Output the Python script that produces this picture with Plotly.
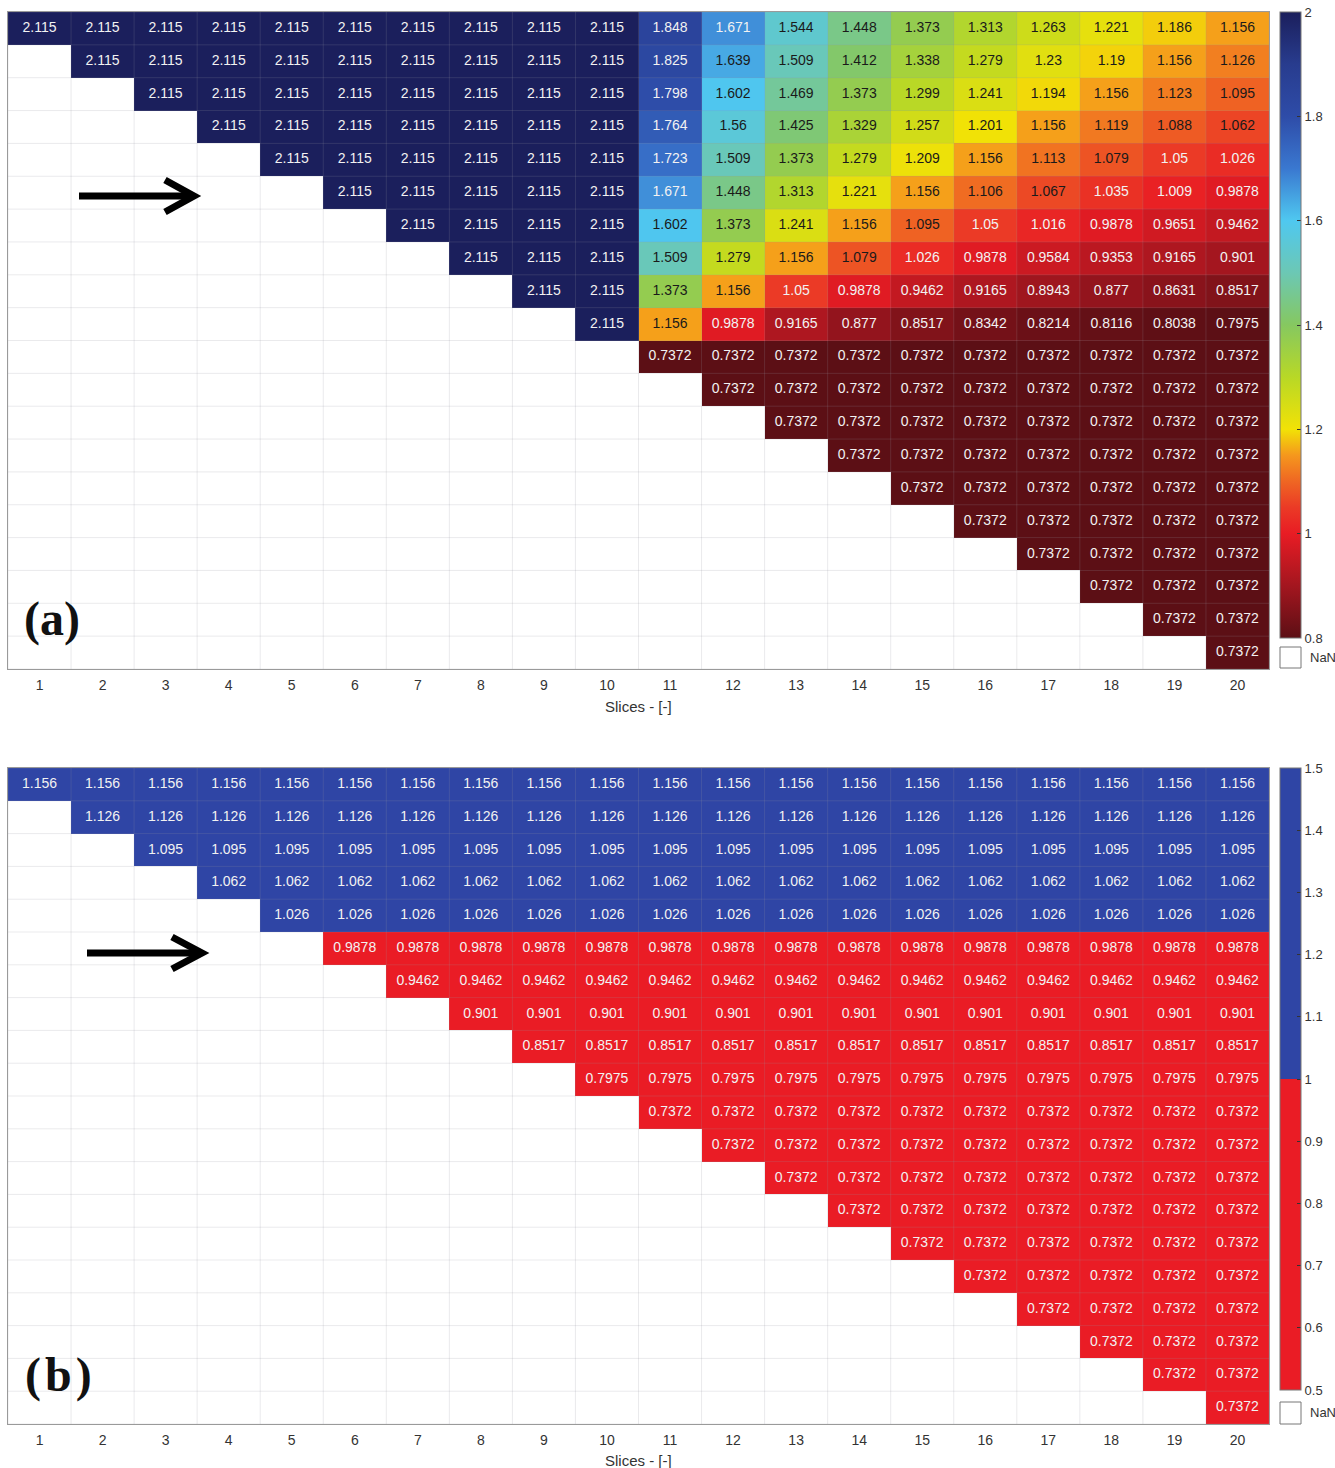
import plotly.graph_objects as go

W, H = 1335, 1468

# ---------------- data ----------------
slices = list(range(1, 21))
tick_labels = [str(s) for s in slices]

a_plateau = 2.115      # rows 1-10, columns up to 10
a_floor = 0.7372       # rows 11-20
a_block = [            # rows 1-10, columns 11-20
    [1.848, 1.671, 1.544, 1.448, 1.373, 1.313, 1.263, 1.221, 1.186, 1.156],
    [1.825, 1.639, 1.509, 1.412, 1.338, 1.279, 1.23, 1.19, 1.156, 1.126],
    [1.798, 1.602, 1.469, 1.373, 1.299, 1.241, 1.194, 1.156, 1.123, 1.095],
    [1.764, 1.56, 1.425, 1.329, 1.257, 1.201, 1.156, 1.119, 1.088, 1.062],
    [1.723, 1.509, 1.373, 1.279, 1.209, 1.156, 1.113, 1.079, 1.05, 1.026],
    [1.671, 1.448, 1.313, 1.221, 1.156, 1.106, 1.067, 1.035, 1.009, 0.9878],
    [1.602, 1.373, 1.241, 1.156, 1.095, 1.05, 1.016, 0.9878, 0.9651, 0.9462],
    [1.509, 1.279, 1.156, 1.079, 1.026, 0.9878, 0.9584, 0.9353, 0.9165, 0.901],
    [1.373, 1.156, 1.05, 0.9878, 0.9462, 0.9165, 0.8943, 0.877, 0.8631, 0.8517],
    [1.156, 0.9878, 0.9165, 0.877, 0.8517, 0.8342, 0.8214, 0.8116, 0.8038, 0.7975],
]
b_rows = [1.156, 1.126, 1.095, 1.062, 1.026, 0.9878, 0.9462, 0.901, 0.8517, 0.7975,
          0.7372, 0.7372, 0.7372, 0.7372, 0.7372, 0.7372, 0.7372, 0.7372, 0.7372, 0.7372]

cbar_a_ticks = [0.8, 1, 1.2, 1.4, 1.6, 1.8, 2]
cbar_b_ticks = [0.5, 0.6, 0.7, 0.8, 0.9, 1, 1.1, 1.2, 1.3, 1.4, 1.5]


def build_a():
    z = []
    for i in range(20):
        row = []
        for j in range(20):
            if j < i:
                row.append(None)
            elif i < 10:
                row.append(a_plateau if j < 10 else a_block[i][j - 10])
            else:
                row.append(a_floor)
        z.append(row)
    return z


def build_b():
    return [[(b_rows[i] if j >= i else None) for j in range(20)] for i in range(20)]


z_a = build_a()
z_b = build_b()

jet_like = [
    [0.0, '#5c0f15'], [0.0833, '#a3161f'], [0.1667, '#e81c24'], [0.2083, '#eb3a26'],
    [0.25, '#ef6623'], [0.2917, '#f5971d'], [0.3333, '#f2e206'], [0.4167, '#b8d826'],
    [0.5, '#86c860'], [0.5833, '#6cc8b4'], [0.6667, '#4fc8f0'], [0.75, '#3a78d0'],
    [0.8333, '#2e4ca8'], [0.9167, '#283c8e'], [1.0, '#1b1f5c'],
]
two_tone = [[0, '#ea1c25'], [0.5, '#ea1c25'], [0.5, '#2f45a5'], [1, '#2f45a5']]

def px(x):
    return x / W

def py(y):
    return 1 - y / H

FONT = 'Liberation Sans, Arial, sans-serif'

fig = go.Figure()

# white backgrounds for NaN cells
white = [[0] * 20 for _ in range(20)]
for xa, ya in (('x', 'y'), ('x2', 'y2')):
    fig.add_trace(go.Heatmap(z=white, x=slices, y=slices, xaxis=xa, yaxis=ya,
                             colorscale=[[0, 'white'], [1, 'white']], showscale=False,
                             hoverinfo='skip'))

fig.add_trace(go.Heatmap(
    z=z_a, x=slices, y=slices, xaxis='x', yaxis='y', zmin=0.8, zmax=2.0,
    colorscale=jet_like, hoverongaps=False,
    colorbar=dict(x=px(1280), xanchor='left', xref='paper', y=py(12), yanchor='top', yref='paper',
                  len=626, lenmode='pixels', thickness=21, thicknessmode='pixels',
                  xpad=0, ypad=0, outlinewidth=1, outlinecolor='#777',
                  tickvals=cbar_a_ticks, ticktext=[f'{v:g}' for v in cbar_a_ticks],
                  ticks='inside', ticklen=4, tickcolor='#333',
                  tickfont=dict(family=FONT, size=13, color='#333')),
))
fig.add_trace(go.Heatmap(
    z=z_b, x=slices, y=slices, xaxis='x2', yaxis='y2', zmin=0.5, zmax=1.5,
    colorscale=two_tone, hoverongaps=False,
    colorbar=dict(x=px(1280), xanchor='left', xref='paper', y=py(768), yanchor='top', yref='paper',
                  len=622, lenmode='pixels', thickness=21, thicknessmode='pixels',
                  xpad=0, ypad=0, outlinewidth=1, outlinecolor='#777',
                  tickvals=cbar_b_ticks, ticktext=[f'{v:g}' for v in cbar_b_ticks],
                  ticks='inside', ticklen=4, tickcolor='#333',
                  tickfont=dict(family=FONT, size=13, color='#333')),
))


def text_trace(z, xa, ya, color_fn):
    xs, ys, ts, cs = [], [], [], []
    for i in range(20):
        for j in range(20):
            v = z[i][j]
            if v is None:
                continue
            xs.append(slices[j]); ys.append(slices[i])
            ts.append(f'{v:.4g}'); cs.append(color_fn(v))
    return go.Scatter(x=xs, y=ys, text=ts, mode='text', xaxis=xa, yaxis=ya,
                      textfont=dict(family=FONT, size=14, color=cs),
                      hoverinfo='skip', showlegend=False)


fig.add_trace(text_trace(z_a, 'x', 'y',
                         lambda v: '#f2f2f2' if (v < 1.055 or v > 1.65) else '#1a1a1a'))
fig.add_trace(text_trace(z_b, 'x2', 'y2', lambda v: '#f2f2f2'))

dom_x = [px(8), px(1269)]
axis_common = dict(showgrid=False, zeroline=False, showline=True, linecolor='#9a9a9a',
                   linewidth=1, mirror=True)
fig.update_layout(
    width=W, height=H, margin=dict(l=0, r=0, t=0, b=0),
    paper_bgcolor='white', plot_bgcolor='white', showlegend=False,
    xaxis=dict(domain=dom_x, anchor='y', range=[0.5, 20.5], tickvals=slices, ticktext=tick_labels,
               ticks='', ticklabelstandoff=3, tickfont=dict(family=FONT, size=14, color='#333'),
               **axis_common),
    yaxis=dict(domain=[py(669), py(12)], anchor='x', range=[20.5, 0.5], showticklabels=False,
               ticks='', **axis_common),
    xaxis2=dict(domain=dom_x, anchor='y2', range=[0.5, 20.5], tickvals=slices, ticktext=tick_labels,
                ticks='', ticklabelstandoff=3, tickfont=dict(family=FONT, size=14, color='#333'),
                **axis_common),
    yaxis2=dict(domain=[py(1424), py(768)], anchor='x2', range=[20.5, 0.5], showticklabels=False,
                ticks='', **axis_common),
)

shapes = []
# cell grid lines
for xr, yr in (('x', 'y'), ('x2', 'y2')):
    for k in range(21):
        g = k + 0.5
        shapes.append(dict(type='line', xref=xr, yref=yr, x0=g, x1=g, y0=0.5, y1=20.5,
                           line=dict(color='rgba(150,150,160,0.2)', width=1), layer='above'))
        shapes.append(dict(type='line', xref=xr, yref=yr, x0=0.5, x1=20.5, y0=g, y1=g,
                           line=dict(color='rgba(150,150,160,0.2)', width=1), layer='above'))

# NaN legend boxes
for y0, y1 in ((647, 668), (1402, 1424)):
    shapes.append(dict(type='rect', xref='paper', yref='paper', x0=px(1280), x1=px(1301),
                       y0=py(y1), y1=py(y0), line=dict(color='#777', width=1), fillcolor='white'))

# arrows
for (sx0, sx1, sy, tipx, endx, ytop, ybot) in ((79, 190, 196, 194, 165, 180, 212),
                                                (87, 198, 953, 202, 172, 937, 969)):
    shapes.append(dict(type='line', xref='paper', yref='paper', x0=px(sx0), x1=px(sx1),
                       y0=py(sy), y1=py(sy), line=dict(color='black', width=7)))
    shapes.append(dict(type='path', xref='paper', yref='paper',
                       path=f'M {px(endx)},{py(ytop)} L {px(tipx)},{py(sy)} L {px(endx)},{py(ybot)}',
                       line=dict(color='black', width=7)))
fig.update_layout(shapes=shapes)

ann = []
for y in (657, 1412):
    ann.append(dict(text='NaN', x=px(1308), y=py(y), xref='paper', yref='paper', xanchor='left',
                    yanchor='middle', showarrow=False, font=dict(family=FONT, size=13, color='#333')))
for y in (706, 1460):
    ann.append(dict(text='Slices - [-]', x=px(638.5), y=py(y), xref='paper', yref='paper',
                    xanchor='center', yanchor='middle', showarrow=False,
                    font=dict(family=FONT, size=15, color='#333')))
ann.append(dict(text='<b>(a)</b>', x=px(52), y=py(619), xref='paper', yref='paper', showarrow=False,
                xanchor='center', yanchor='middle',
                font=dict(family='Liberation Serif, Times New Roman, serif', size=48, color='#111')))
ann.append(dict(text='<b>(\u200ab\u200a)</b>', x=px(58), y=py(1375), xref='paper', yref='paper',
                showarrow=False, xanchor='center', yanchor='middle',
                font=dict(family='Liberation Serif, Times New Roman, serif', size=48, color='#111')))
fig.update_layout(annotations=ann)

fig.write_html('out.html')
